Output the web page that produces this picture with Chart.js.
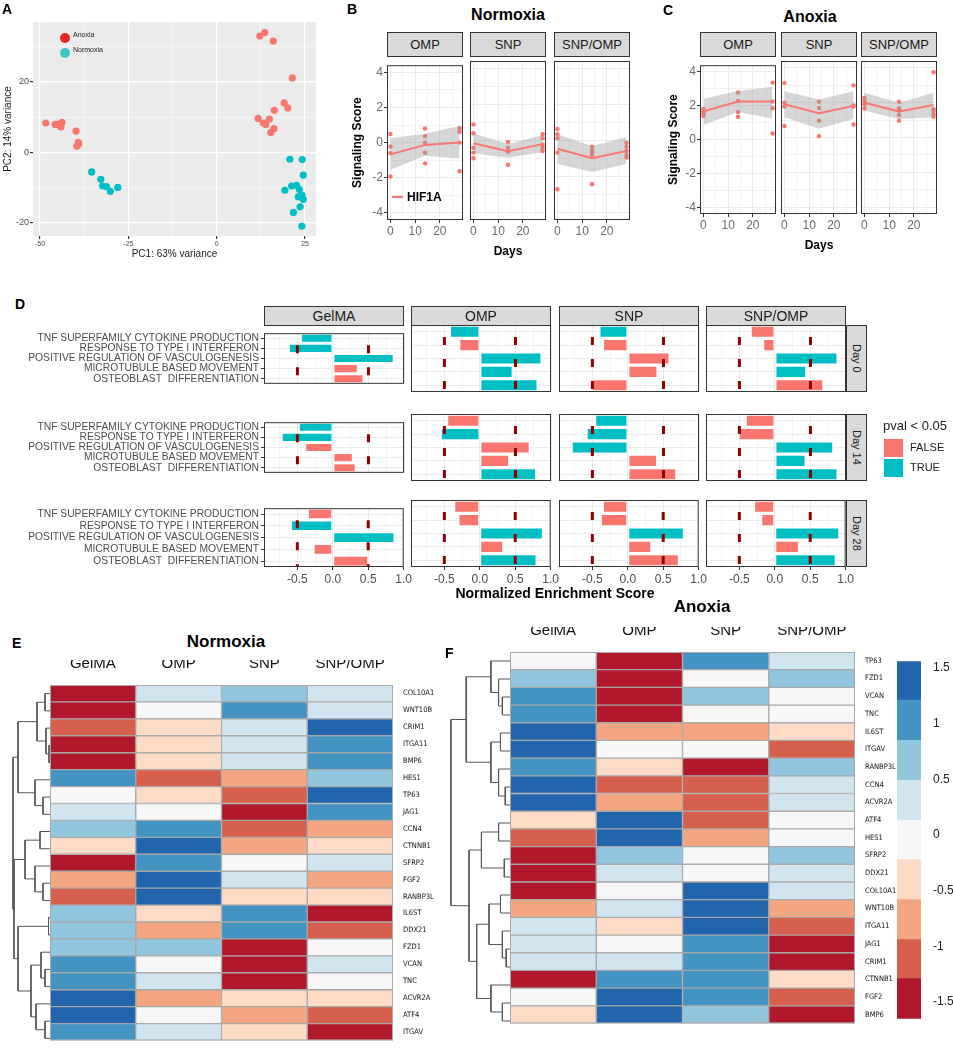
<!DOCTYPE html>
<html>
<head>
<meta charset="utf-8">
<script src="https://cdn.jsdelivr.net/npm/chart.js@4.4.1/dist/chart.umd.min.js"></script>
<style>
  body { margin: 0; background: #fff; font-family: "Liberation Sans", Arial, sans-serif; }
  #fig { position: relative; width: 953px; height: 1050px; overflow: hidden; background: #fff; }
  canvas { position: absolute; }
  .t { position: absolute; white-space: nowrap; color: #000; line-height: 1; }
  .strip { position: absolute; box-sizing: border-box; background: #D9D9D9; border: 1px solid #333;
           display: flex; align-items: center; justify-content: center; font-size: 13px; color: #1a1a1a; }
</style>
</head>
<body>
<div id="fig"></div>
<script>
// ---------- A: PCA ----------
const pcaAnoxiaX = [-48.4, -45.7, -44.8, -43.8, -44.1, -39.8, -39.1, -39.6, -39.2,
                    12.2, 13.6, 16.0, 21.4, 16.3, 19.1, 20.1, 11.7, 13.2, 14.9, 13.9, 16.2, 15.3];
const pcaAnoxiaY = [8.3, 7.9, 7.9, 8.5, 7.2, 6.0, 2.3, 1.7, 2.8,
                    33.0, 34.0, 31.6, 21.1, 11.9, 14.0, 12.6, 9.6, 8.3, 9.4, 7.9, 6.7, 5.6];
const pcaNormoxiaX = [-35.4, -32.8, -32.3, -31.2, -30.1, -28.0,
                      20.7, 24.2, 24.5, 19.3, 21.2, 22.6, 23.4, 24.1, 24.5, 23.6, 21.7, 24.1, 23.1];
const pcaNormoxiaY = [-5.6, -7.7, -9.6, -9.8, -11.1, -10.0,
                      -2.0, -2.1, -6.5, -10.8, -9.6, -9.4, -10.6, -12.2, -13.4, -15.5, -17.1, -21.0, -12.7];

// ---------- B / C: HIF1A signaling score ----------
const days = [0, 14, 28];
const facets = ['OMP', 'SNP', 'SNP/OMP'];
// points per facet: [day0], [day14], [day28]
const normoxiaPts = [
  [[0.49, -0.22, -0.6, -1.93], [0.8, 0.37, 0.0, -0.58, -1.18], [0.82, 0.62, 0.0, -1.63]],
  [[0.89, 0.4, -0.4, -0.67, -0.98], [-0.08, -0.4, -0.62, -1.34], [0.35, 0.13, -0.22, -0.4, -0.58]],
  [[0.64, 0.35, 0.13, -0.67, -2.7], [-0.35, -0.55, -0.67, -0.8, -2.42], [-0.13, -0.35, -0.58, -0.8, -0.94]]
];
const normoxiaFit = [[-0.67, -0.13, 0.0], [-0.15, -0.6, -0.2], [-0.46, -0.98, -0.58]];
const normoxiaLo = [[-1.55, -0.75, -0.9], [-0.7, -0.95, -0.65], [-1.3, -1.75, -1.3]];
const normoxiaHi = [[0.25, 0.5, 0.95], [0.4, -0.2, 0.3], [0.35, -0.3, 0.2]];

const anoxiaPts = [
  [[1.82, 1.67, 1.55, 1.39], [2.79, 2.28, 1.63, 1.35], [3.37, 2.25, 1.85, 0.36]],
  [[3.13, 2.0, 1.78, 0.66], [2.06, 1.7, 0.97, 0.07], [3.0, 1.85, 1.78, 0.75]],
  [[2.28, 2.1, 1.91, 1.67], [2.06, 1.67, 1.54, 1.29, 0.97], [3.75, 1.63, 1.54, 1.35, 1.2]]
];
const anoxiaFit = [[1.67, 2.25, 2.25], [1.91, 1.39, 1.82], [2.0, 1.5, 1.87]];
const anoxiaLo = [[0.88, 1.63, 1.25], [1.16, 0.5, 1.07], [1.54, 1.07, 1.16]];
const anoxiaHi = [[2.42, 2.88, 3.13], [2.66, 2.19, 2.66], [2.57, 2.0, 2.57]];

// ---------- D: normalized enrichment scores ----------
const pathways = ['TNF SUPERFAMILY CYTOKINE PRODUCTION', 'RESPONSE TO TYPE I INTERFERON',
  'POSITIVE REGULATION OF VASCULOGENESIS', 'MICROTUBULE BASED MOVEMENT', 'OSTEOBLAST  DIFFERENTIATION'];
const scaffolds = ['GelMA', 'OMP', 'SNP', 'SNP/OMP'];
const timepoints = ['Day 0', 'Day 14', 'Day 28'];
const nesDay0 = [[-0.45, -0.62, 0.855, 0.35, 0.43], [-0.42, -0.29, 0.865, 0.46, 0.81],
                 [-0.40, -0.35, 0.585, 0.415, -0.505], [-0.34, -0.165, 0.88, 0.44, 0.68]];
const sigDay0 = [[1, 1, 1, 0, 0], [1, 0, 1, 1, 1], [1, 0, 0, 0, 0], [0, 0, 1, 1, 0]];
const nesDay14 = [[-0.48, -0.72, -0.39, 0.28, 0.32], [-0.46, -0.55, 0.70, 0.41, 0.79],
                  [-0.46, -0.58, -0.79, 0.41, 0.68], [-0.41, -0.51, 0.82, 0.43, 0.88]];
const sigDay14 = [[1, 1, 0, 0, 0], [0, 1, 0, 0, 1], [1, 1, 1, 0, 0], [0, 0, 1, 1, 1]];
const nesDay28 = [[-0.35, -0.59, 0.87, -0.27, 0.50], [-0.36, -0.30, 0.89, 0.33, 0.80],
                  [-0.35, -0.38, 0.79, 0.33, 0.72], [-0.29, -0.19, 0.91, 0.34, 0.86]];
const sigDay28 = [[0, 1, 1, 0, 0], [0, 0, 1, 0, 1], [0, 0, 1, 0, 0], [0, 0, 1, 0, 1]];
const nesCutoffs = [-0.5, 0.5];

// ---------- E / F: heatmaps ----------
const genesNormoxia = ['COL10A1', 'WNT10B', 'CRIM1', 'ITGA11', 'BMP6', 'HES1', 'TP63', 'JAG1', 'CCN4', 'CTNNB1',
  'SFRP2', 'FGF2', 'RANBP3L', 'IL6ST', 'DDX21', 'FZD1', 'VCAN', 'TNC', 'ACVR2A', 'ATF4', 'ITGAV'];
const normoxiaGelMA = [-1.6, -1.6, -1.2, -1.6, -1.6, 1.2, 0, 0.4, 0.8, -0.4, -1.6, -0.8, -1.2, 0.8, 0.8, 0.8, 1.2, 1.2, 1.6, 1.6, 1.2];
const normoxiaOMP = [0.4, 0, -0.4, -0.4, -0.4, -1.2, -0.4, 0, 1.2, 1.6, 1.2, 1.6, 1.6, -0.4, -0.8, 0.8, 0, 0.4, -0.8, 0, 0.4];
const normoxiaSNP = [0.8, 1.2, 0.4, 0.4, 0.4, -0.8, -1.2, -1.6, -1.2, -0.8, 0, 0.4, -0.4, 1.2, 1.2, -1.6, -1.6, -1.6, -0.4, -0.8, -0.4];
const normoxiaSNPOMP = [0.4, 0.4, 1.6, 1.2, 1.2, 0.8, 1.6, 1.2, -0.8, -0.4, 0.4, -0.8, -0.4, -1.6, -1.2, 0, 0.4, 0, -0.4, -1.2, -1.6];
// hclust-style merges: [left, right, height]; negative = leaf (1-based row)
const normoxiaMerge = [[-4, -5, 1], [-14, -15, 1.5], [-3, 1, 4], [-1, -2, 5], [-17, -18, 5], [-20, -21, 5],
  [-7, -8, 7], [-12, -13, 7], [-16, 5, 9], [-9, -10, 10], [4, 3, 13], [-19, 6, 14], [-6, 7, 15], [-11, 8, 15],
  [9, 12, 19], [10, 14, 25], [11, 13, 32], [2, 15, 32], [16, 18, 36], [17, 19, 37]];

const genesAnoxia = ['TP63', 'FZD1', 'VCAN', 'TNC', 'IL6ST', 'ITGAV', 'RANBP3L', 'CCN4', 'ACVR2A', 'ATF4', 'HES1',
  'SFRP2', 'DDX21', 'COL10A1', 'WNT10B', 'ITGA11', 'JAG1', 'CRIM1', 'CTNNB1', 'FGF2', 'BMP6'];
const anoxiaGelMA = [0, 0.8, 1.2, 1.2, 1.6, 1.6, 1.2, 1.6, 1.6, -0.4, -1.2, -1.6, -1.6, -1.6, -0.8, 0.4, 0.4, 0.4, -1.6, 0, -0.4];
const anoxiaOMP = [-1.6, -1.6, -1.6, -1.6, -0.8, 0, -0.4, -1.2, -0.8, 1.6, 1.6, 0.8, 0.4, 0, 0.4, -0.4, 0, 0.4, 1.2, 1.6, 1.6];
const anoxiaSNP = [1.2, 0, 0.8, 0, -0.8, 0, -1.6, -1.2, -1.2, -1.2, -0.8, 0, 0, 1.6, 1.6, 1.6, 1.2, 1.2, 1.2, 1.2, 0.8];
const anoxiaSNPOMP = [0.4, 0.8, 0, 0, -0.4, -1.2, 0.8, 0.4, 0.4, 0, 0, 0.8, 0.4, 0.4, -0.8, -1.2, -1.6, -1.6, -0.4, -1.2, -1.6];
const anoxiaMerge = [[-17, -18, 4], [-8, -9, 5], [-12, -13, 6], [-3, -4, 8], [-16, 1, 8], [-20, -21, 8],
  [-5, -6, 10], [-14, -15, 10], [-2, 4, 12], [-7, 2, 12], [-10, -11, 12], [-1, 9, 20], [-19, 6, 20],
  [7, 10, 20], [8, 5, 22], [11, 3, 30], [15, 13, 35], [16, 17, 43], [12, 14, 46], [19, 18, 62]];

const heatBreaks = [-1.65, -1.29, -0.94, -0.58, -0.22, 0.13, 0.49, 0.85, 1.21, 1.56];
const heatColors = ['#B2182B', '#D6604D', '#F4A582', '#FDDBC7', '#F7F7F7', '#D1E5F0', '#92C5DE', '#4393C3', '#2166AC'];
const heatTicks = [-1.5, -1, -0.5, 0, 0.5, 1, 1.5];

// ---------- setup ----------
const SALMON = '#F8766D', TEAL = '#00BFC4';
Chart.defaults.font.family = '"Liberation Sans", Arial, sans-serif';
Chart.defaults.animation = false;
Chart.defaults.responsive = false;
Chart.defaults.devicePixelRatio = 1;
Chart.defaults.plugins.legend.display = false;
Chart.defaults.plugins.tooltip.enabled = false;

// panel background and border
Chart.register({
  id: 'frame',
  beforeDraw(chart, args, o) {
    if (!o.bg) return;
    const a = chart.chartArea, c = chart.ctx;
    c.save(); c.fillStyle = o.bg; c.fillRect(a.left, a.top, a.width, a.height); c.restore();
  },
  afterDraw(chart, args, o) {
    if (!o.border) return;
    const a = chart.chartArea, c = chart.ctx;
    c.save(); c.strokeStyle = o.border; c.lineWidth = 1;
    c.strokeRect(a.left + 0.5, a.top + 0.5, a.width - 1, a.height - 1); c.restore();
  }
});
// dashed cut-off lines in D
Chart.register({
  id: 'nesLines',
  afterDatasetsDraw(chart, args, o) {
    if (!o.values) return;
    const x = chart.scales.x, a = chart.chartArea, c = chart.ctx;
    c.save(); c.strokeStyle = '#8B0000'; c.lineWidth = 3; c.setLineDash([8, 14]);
    o.values.forEach(v => {
      const px = x.getPixelForValue(v);
      c.beginPath(); c.moveTo(px, a.top + 12); c.lineTo(px, a.bottom); c.stroke();
    });
    c.restore();
  }
});

const fig = document.getElementById('fig');
function canvasAt(left, top, w, h) {
  const c = document.createElement('canvas');
  c.width = w; c.height = h;
  c.style.left = left + 'px'; c.style.top = top + 'px';
  c.style.width = w + 'px'; c.style.height = h + 'px';
  fig.appendChild(c);
  return c;
}
function text(str, left, top, css) {
  const d = document.createElement('div');
  d.className = 't'; d.textContent = str;
  d.style.left = left + 'px'; d.style.top = top + 'px';
  if (css) d.style.cssText += css;
  fig.appendChild(d);
  return d;
}
function strip(str, left, top, w, h, css) {
  const d = document.createElement('div');
  d.className = 'strip'; d.textContent = str;
  d.style.cssText += `left:${left}px;top:${top}px;width:${w}px;height:${h}px;` + (css || '');
  fig.appendChild(d);
}
const isIn = (arr, v) => arr.some(m => Math.abs(m - v) < 1e-9);
function tickList(major, minor) {
  const all = major.concat(minor).sort((a, b) => a - b);
  return s => { s.ticks = all.map(v => ({ value: v })); };
}

// ---------- A ----------
const pcaXMajor = [-50, -25, 0, 25], pcaYMajor = [-20, 0, 20];
new Chart(canvasAt(0, 0, 320, 262), {
  type: 'scatter',
  data: { datasets: [
    { data: pcaAnoxiaX.map((x, i) => ({ x, y: pcaAnoxiaY[i] })), backgroundColor: SALMON, pointRadius: 3.6, borderWidth: 0 },
    { data: pcaNormoxiaX.map((x, i) => ({ x, y: pcaNormoxiaY[i] })), backgroundColor: TEAL, pointRadius: 3.6, borderWidth: 0 }
  ] },
  options: {
    layout: { padding: { top: 22, right: 4 } },
    plugins: { frame: { bg: '#EBEBEB' } },
    scales: {
      x: {
        min: -52, max: 28.1,
        afterBuildTicks: tickList(pcaXMajor, [-37.5, -12.5, 12.5]),
        afterFit: s => { s.height = 26; },
        border: { display: false },
        grid: { color: '#fff', lineWidth: c => c.tick && isIn(pcaXMajor, c.tick.value) ? 1.2 : 0.5,
                tickLength: 3, tickColor: c => c.tick && isIn(pcaXMajor, c.tick.value) ? '#333' : 'rgba(0,0,0,0)' },
        ticks: { autoSkip: false, maxRotation: 0, font: { size: 7 }, color: '#4D4D4D', padding: 1,
                 callback: v => isIn(pcaXMajor, v) ? String(v) : '' },
        title: { display: true, text: 'PC1: 63% variance', font: { size: 10 }, color: '#1a1a1a', padding: { top: 1, bottom: 2 } }
      },
      y: {
        min: -23.8, max: 37,
        afterBuildTicks: tickList(pcaYMajor, [-10, 10, 30]),
        afterFit: s => { s.width = 33; },
        border: { display: false },
        grid: { color: '#fff', lineWidth: c => c.tick && isIn(pcaYMajor, c.tick.value) ? 1.2 : 0.5,
                tickLength: 3, tickColor: c => c.tick && isIn(pcaYMajor, c.tick.value) ? '#333' : 'rgba(0,0,0,0)' },
        ticks: { autoSkip: false, font: { size: 9 }, color: '#4D4D4D', padding: 1,
                 callback: v => isIn(pcaYMajor, v) ? String(v) : '' },
        title: { display: true, text: 'PC2: 14% variance', font: { size: 10 }, color: '#1a1a1a', padding: { top: 2, bottom: 1 } }
      }
    }
  }
});
text('A', 2, 2, 'font-weight:bold;font-size:14px;');
text('', 60, 33, 'width:10px;height:10px;border-radius:50%;background:#EE2222;');
text('', 60, 48, 'width:10px;height:10px;border-radius:50%;background:#3EC6C6;');
text('Anoxia', 73, 31, 'font-size:7px;color:#222;');
text('Normoxia', 73, 46, 'font-size:7px;color:#222;');

// ---------- B / C ----------
const dayMajor = [0, 10, 20], scoreMajor = [-4, -2, 0, 2, 4];
function signalFacet(panelLeft, top, panelH, axisH, pts, fit, lo, hi, o) {
  const yW = o.yW || 0, padL = yW ? 0 : 8, padR = 8;
  const c = canvasAt(panelLeft - yW - padL, top, yW + padL + 76 + padR, panelH + axisH);
  const line = arr => days.map((d, i) => ({ x: d, y: arr[i] }));
  new Chart(c, {
    type: 'line',
    data: { datasets: [
      { data: line(fit), borderColor: SALMON, borderWidth: 2, pointRadius: 0, fill: false },
      { data: line(hi), borderWidth: 0, pointRadius: 0, fill: 2, backgroundColor: 'rgba(153,153,153,0.4)' },
      { data: line(lo), borderWidth: 0, pointRadius: 0, fill: false },
      { data: pts.flatMap((vals, i) => vals.map(y => ({ x: days[i], y }))), showLine: false,
        pointRadius: 2.2, backgroundColor: SALMON, borderWidth: 0 }
    ] },
    options: {
      layout: { padding: { left: padL, right: padR } },
      plugins: { frame: { bg: '#fff', border: '#333' } },
      scales: {
        x: {
          type: 'linear', min: -1.4, max: 29.4,
          afterBuildTicks: tickList(dayMajor, [5, 15, 25]),
          afterFit: s => { s.height = axisH; },
          border: { display: false },
          grid: { color: '#EBEBEB', lineWidth: g => g.tick && isIn(dayMajor, g.tick.value) ? 1 : 0.6,
                  tickLength: 3, tickColor: g => g.tick && isIn(dayMajor, g.tick.value) ? '#333' : 'rgba(0,0,0,0)' },
          ticks: { autoSkip: false, maxRotation: 0, font: { size: 12 }, color: '#6b6b6b', padding: 1,
                   callback: v => isIn(dayMajor, v) ? String(v) : '' },
          title: { display: !!o.xTitle, text: 'Days', font: { size: 12, weight: 'bold' }, color: '#000', padding: { top: 6, bottom: 4 } }
        },
        y: {
          min: -4.4, max: 4.4,
          afterBuildTicks: tickList(scoreMajor, [-3, -1, 1, 3]),
          afterFit: s => { s.width = yW; },
          border: { display: false },
          grid: { color: '#EBEBEB', lineWidth: g => g.tick && isIn(scoreMajor, g.tick.value) ? 1 : 0.6,
                  drawTicks: !!yW, tickLength: 3,
                  tickColor: g => g.tick && isIn(scoreMajor, g.tick.value) ? '#333' : 'rgba(0,0,0,0)' },
          ticks: { display: !!yW, autoSkip: false, font: { size: 12 }, color: '#6b6b6b', padding: 1,
                   callback: v => isIn(scoreMajor, v) ? String(v) : '' },
          title: { display: !!yW, text: 'Signaling Score', font: { size: 12, weight: 'bold' }, color: '#000', padding: { top: 0, bottom: 2 } }
        }
      }
    }
  });
}

const normLefts = [387, 470, 554], anoxLefts = [700, 781, 861];
facets.forEach((f, i) => {
  signalFacet(normLefts[i], 57, 163, 43, normoxiaPts[i], normoxiaFit[i], normoxiaLo[i], normoxiaHi[i],
              { yW: i === 0 ? 37 : 0, xTitle: i === 1 });
  strip(f, normLefts[i], 32, 76, 25);
  signalFacet(anoxLefts[i], 57, 157, 43, anoxiaPts[i], anoxiaFit[i], anoxiaLo[i], anoxiaHi[i],
              { yW: i === 0 ? 34 : 0, xTitle: i === 1 });
  strip(f, anoxLefts[i], 32, 76, 25);
});
text('B', 347, 2, 'font-weight:bold;font-size:14px;');
text('Normoxia', 508, 7, 'font-weight:bold;font-size:16px;transform:translateX(-50%);');
text('C', 663, 3, 'font-weight:bold;font-size:14px;');
text('Anoxia', 810, 9, 'font-weight:bold;font-size:16px;transform:translateX(-50%);');
text('', 392, 196, 'width:11px;height:2px;background:' + SALMON + ';');
text('HIF1A', 407, 191, 'font-weight:bold;font-size:12px;');

// ---------- D ----------
const nesByDay = [nesDay0, nesDay14, nesDay28], sigByDay = [sigDay0, sigDay14, sigDay28];
const nesMajor = [-0.5, 0, 0.5, 1.0];
const nesLefts = [264, 411, 559, 706], nesTops = [325, 414, 500];
function nesPanel(row, col) {
  const first = col === 0, last = row === 2;
  const vals = nesByDay[row][col], sig = sigByDay[row][col];
  const yW = first ? 244 : 0, padR = 10, axisH = last ? 22 : 0;
  new Chart(canvasAt(nesLefts[col] - yW, nesTops[row], yW + 140 + padR, 67 + axisH), {
    type: 'bar',
    data: { labels: pathways, datasets: [{
      data: vals, backgroundColor: sig.map(s => s ? TEAL : SALMON),
      borderColor: 'rgba(255,255,255,0.6)', borderWidth: 1, borderSkipped: false,
      barPercentage: 0.9, categoryPercentage: 1
    }] },
    options: {
      indexAxis: 'y',
      layout: { padding: { right: padR } },
      plugins: { frame: { bg: '#fff', border: '#333' }, nesLines: { values: nesCutoffs } },
      scales: {
        x: {
          min: -0.97, max: 1.0,
          afterBuildTicks: tickList(nesMajor, [-0.75, -0.25, 0.25, 0.75]),
          afterFit: s => { s.height = axisH; },
          border: { display: false },
          grid: { color: '#EBEBEB', lineWidth: g => g.tick && isIn(nesMajor, g.tick.value) ? 1 : 0.5,
                  drawTicks: last, tickLength: 3,
                  tickColor: g => g.tick && isIn(nesMajor, g.tick.value) ? '#333' : 'rgba(0,0,0,0)' },
          ticks: { display: last, autoSkip: false, maxRotation: 0, font: { size: 12 }, color: '#4D4D4D', padding: 2,
                   callback: v => isIn(nesMajor, v) ? v.toFixed(1) : '' }
        },
        y: {
          afterFit: s => { s.width = yW; },
          border: { display: false },
          grid: { color: '#EBEBEB', offset: false, drawTicks: first, tickLength: 3, tickColor: '#333' },
          ticks: { display: first, autoSkip: false, font: { size: 10.3 }, color: '#4D4D4D', padding: 2 }
        }
      }
    }
  });
}
timepoints.forEach((tp, r) => {
  scaffolds.forEach((s, c) => nesPanel(r, c));
  strip(tp, 846, nesTops[r], 21, 67, 'writing-mode:vertical-rl;font-size:11px;');
});
scaffolds.forEach((s, c) => strip(s, nesLefts[c], 306, 140, 20, 'font-size:14px;'));
text('D', 15, 297, 'font-weight:bold;font-size:14px;');
text('Normalized Enrichment Score', 555, 586, 'font-weight:bold;font-size:14px;transform:translateX(-50%);');
text('pval < 0.05', 883, 419, 'font-size:13px;color:#222;');
text('', 884, 439, 'width:19px;height:18px;background:' + SALMON + ';');
text('', 884, 459, 'width:19px;height:18px;background:' + TEAL + ';');
text('FALSE', 910, 442, 'font-size:11px;color:#222;');
text('TRUE', 910, 462, 'font-size:11px;color:#222;');

// ---------- E / F ----------
function heatColor(v) {
  for (let i = 0; i < heatColors.length; i++) if (v < heatBreaks[i + 1]) return heatColors[i];
  return heatColors[heatColors.length - 1];
}
function heatmap(left, top, w, h, genes, columns, labW) {
  const headH = 25;
  new Chart(canvasAt(left, top - headH, w + labW, h + headH), {
    type: 'bar',
    data: { labels: genes, datasets: columns.map((col, j) => ({
      label: scaffolds[j], data: col.map(() => 1), backgroundColor: col.map(heatColor),
      borderColor: '#A8A8A8', borderWidth: 1, borderSkipped: false, barPercentage: 1, categoryPercentage: 1
    })) },
    options: {
      indexAxis: 'y',
      plugins: { frame: { border: '#A8A8A8' } },
      scales: {
        x: { stacked: true, min: 0, max: 4, display: false },
        xTop: { type: 'category', labels: scaffolds, position: 'top', offset: true,
                grid: { display: false }, border: { display: false },
                ticks: { font: { size: 15 }, color: '#111', padding: 4 },
                afterFit: s => { s.height = headH; } },
        y: { stacked: true, position: 'right', grid: { display: false }, border: { display: false },
             ticks: { autoSkip: false, font: { size: 7.5, family: '"Liberation Sans Narrow", "DejaVu Sans Condensed", "Liberation Sans", sans-serif' },
                      color: '#111', padding: 2 },
             afterFit: s => { s.width = labW; } }
      }
    }
  });
}
function dendroSegments(merges) {
  const nodes = [];
  const get = k => (k < 0 ? { y: -k - 1, h: 0 } : nodes[k - 1]);
  return merges.map(([a, b, h]) => {
    const A = get(a), B = get(b);
    nodes.push({ y: (A.y + B.y) / 2, h });
    return [{ x: A.h, y: A.y }, { x: h, y: A.y }, { x: h, y: B.y }, { x: B.h, y: B.y }];
  });
}
function dendrogram(left, top, w, h, merges, maxH, nLeaves) {
  new Chart(canvasAt(left, top, w, h), {
    type: 'line',
    data: { datasets: dendroSegments(merges).map(seg => ({
      data: seg, borderColor: '#555', borderWidth: 1, pointRadius: 0, tension: 0, fill: false
    })) },
    options: {
      scales: {
        x: { type: 'linear', display: false, min: 0, max: maxH, reverse: true },
        y: { type: 'linear', display: false, min: -0.5, max: nLeaves - 0.5, reverse: true }
      }
    }
  });
}

heatmap(50, 685, 343, 362, genesNormoxia, [normoxiaGelMA, normoxiaOMP, normoxiaSNP, normoxiaSNPOMP], 50);
dendrogram(10, 685, 40, 362, normoxiaMerge, 40, genesNormoxia.length);
text('E', 12, 636, 'font-weight:bold;font-size:14px;');
text('Normoxia', 226, 633, 'font-weight:bold;font-size:17px;transform:translateX(-50%);');

heatmap(510, 652, 345, 378, genesAnoxia, [anoxiaGelMA, anoxiaOMP, anoxiaSNP, anoxiaSNPOMP], 41);
dendrogram(450, 652, 60, 378, anoxiaMerge, 63, genesAnoxia.length);
text('F', 445, 646, 'font-weight:bold;font-size:14px;');
text('Anoxia', 702, 598, 'font-weight:bold;font-size:17px;transform:translateX(-50%);');

// colour key
new Chart(canvasAt(897, 650, 56, 380), {
  type: 'bar',
  data: { labels: [''], datasets: heatColors.map((col, i) => ({
    data: [[heatBreaks[i], heatBreaks[i + 1]]], backgroundColor: col, grouped: false,
    barPercentage: 1, categoryPercentage: 1, borderWidth: 0
  })) },
  options: {
    scales: {
      x: { display: false },
      y: { position: 'right', min: heatBreaks[0], max: heatBreaks[heatBreaks.length - 1],
           afterBuildTicks: s => { s.ticks = heatTicks.map(v => ({ value: v })); },
           afterFit: s => { s.width = 32; },
           grid: { display: false }, border: { display: false },
           ticks: { font: { size: 12 }, color: '#222', padding: 4, callback: v => String(v) } }
    }
  }
});
</script>
</body>
</html>
